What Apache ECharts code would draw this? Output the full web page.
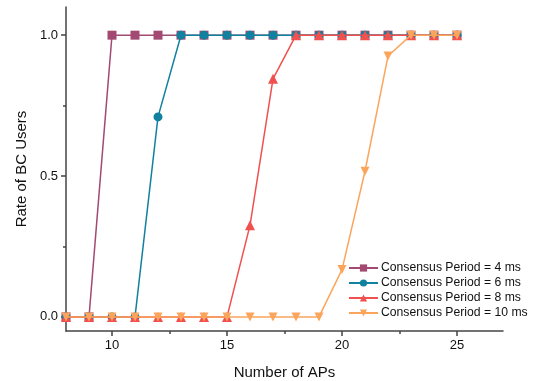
<!DOCTYPE html>
<html>
<head>
<meta charset="utf-8">
<script src="https://cdn.jsdelivr.net/npm/echarts@6/dist/echarts.min.js"></script>
<style>
  html, body { margin: 0; padding: 0; background: #fff; }
  #chart { width: 534px; height: 381px; }
</style>
</head>
<body>
<div id="chart"></div>
<script>
const aps = [8, 9, 10, 11, 12, 13, 14, 15, 16, 17, 18, 19, 20, 21, 22, 23, 24, 25]

const rate4ms = [0, 0, 1, 1, 1, 1, 1, 1, 1, 1, 1, 1, 1, 1, 1, 1, 1, 1]
const rate6ms = [0, 0, 0, 0, 0.71, 1, 1, 1, 1, 1, 1, 1, 1, 1, 1, 1, 1, 1]
const rate8ms = [0, 0, 0, 0, 0, 0, 0, 0, 0.325, 0.845, 1, 1, 1, 1, 1, 1, 1, 1]
const rate10ms = [0, 0, 0, 0, 0, 0, 0, 0, 0, 0, 0, 0, 0.168, 0.517, 0.926, 1, 1, 1]

const seriesNames = [
  'Consensus Period = 4 ms',
  'Consensus Period = 6 ms',
  'Consensus Period = 8 ms',
  'Consensus Period = 10 ms',
]
const seriesValues = [rate4ms, rate6ms, rate8ms, rate10ms]
const colors = ['#a24a72', '#10819e', '#f0504e', '#fba55c']
const symbols = ['rect', 'circle', 'triangle', 'path://M0,0 L10,0 L5,9 Z']

const xTicks = [10, 15, 20, 25]
const xMinor = [12.5, 17.5, 22.5]
const yTicks = [0, 0.5, 1]
const yMinor = [0.25, 0.75]

const font = 'Liberation Sans, Arial, sans-serif'
const axisColor = '#444'

const chart = echarts.init(document.getElementById('chart'))

const baseX = {
  type: 'value',
  min: 8,
  max: 27,
  splitLine: { show: false },
}
const baseY = {
  type: 'value',
  min: -0.05,
  max: 1.1,
  splitLine: { show: false },
}

const option = {
  animation: false,
  grid: { left: 66, right: 31, top: 7, bottom: 50, outerBoundsMode: 'none' },
  legend: {
    orient: 'vertical',
    left: 348,
    top: 262,
    padding: 0,
    itemWidth: 29,
    itemHeight: 9,
    itemGap: 3,
    textStyle: { fontFamily: font, fontSize: 12.2, color: '#111', padding: [0, 0, 0, -2] },
    data: seriesNames,
  },
  xAxis: [
    {
      ...baseX,
      name: 'Number of APs',
      nameLocation: 'middle',
      nameGap: 34,
      nameTextStyle: { fontFamily: font, fontSize: 15, color: '#111', verticalAlign: 'top' },
      axisLine: { onZero: false, lineStyle: { color: axisColor, width: 1.5 } },
      axisTick: { customValues: xTicks, length: 5, lineStyle: { color: axisColor, width: 1.5 } },
      axisLabel: { customValues: xTicks, fontFamily: font, fontSize: 13, color: '#111', margin: 8 },
    },
    {
      ...baseX,
      position: 'bottom',
      axisLine: { show: false, onZero: false },
      axisTick: { customValues: xMinor, length: 3, lineStyle: { color: axisColor, width: 1.5 } },
      axisLabel: { show: false },
    },
  ],
  yAxis: [
    {
      ...baseY,
      name: 'Rate of BC Users',
      nameLocation: 'middle',
      nameGap: 36,
      nameTextStyle: { fontFamily: font, fontSize: 15, color: '#111' },
      axisLine: { show: true, onZero: false, lineStyle: { color: axisColor, width: 1.5 } },
      axisTick: { show: true, customValues: yTicks, length: 5, lineStyle: { color: axisColor, width: 1.5 } },
      axisLabel: {
        customValues: yTicks,
        fontFamily: font,
        fontSize: 13,
        color: '#111',
        margin: 8,
        formatter: (v) => v.toFixed(1),
      },
    },
    {
      ...baseY,
      position: 'left',
      axisLine: { show: false, onZero: false },
      axisTick: { show: true, customValues: yMinor, length: 3, lineStyle: { color: axisColor, width: 1.5 } },
      axisLabel: { show: false },
    },
  ],
  series: seriesNames.map((name, i) => ({
    name: name,
    type: 'line',
    xAxisIndex: 0,
    yAxisIndex: 0,
    data: aps.map((x, j) => [x, seriesValues[i][j]]),
    symbol: symbols[i],
    symbolSize: i === 2 ? 10 : 9,
    showSymbol: true,
    itemStyle: { color: colors[i] },
    lineStyle: { color: colors[i], width: 1.5 },
    z: 2 + i,
  })),
}

chart.setOption(option)
</script>
</body>
</html>
